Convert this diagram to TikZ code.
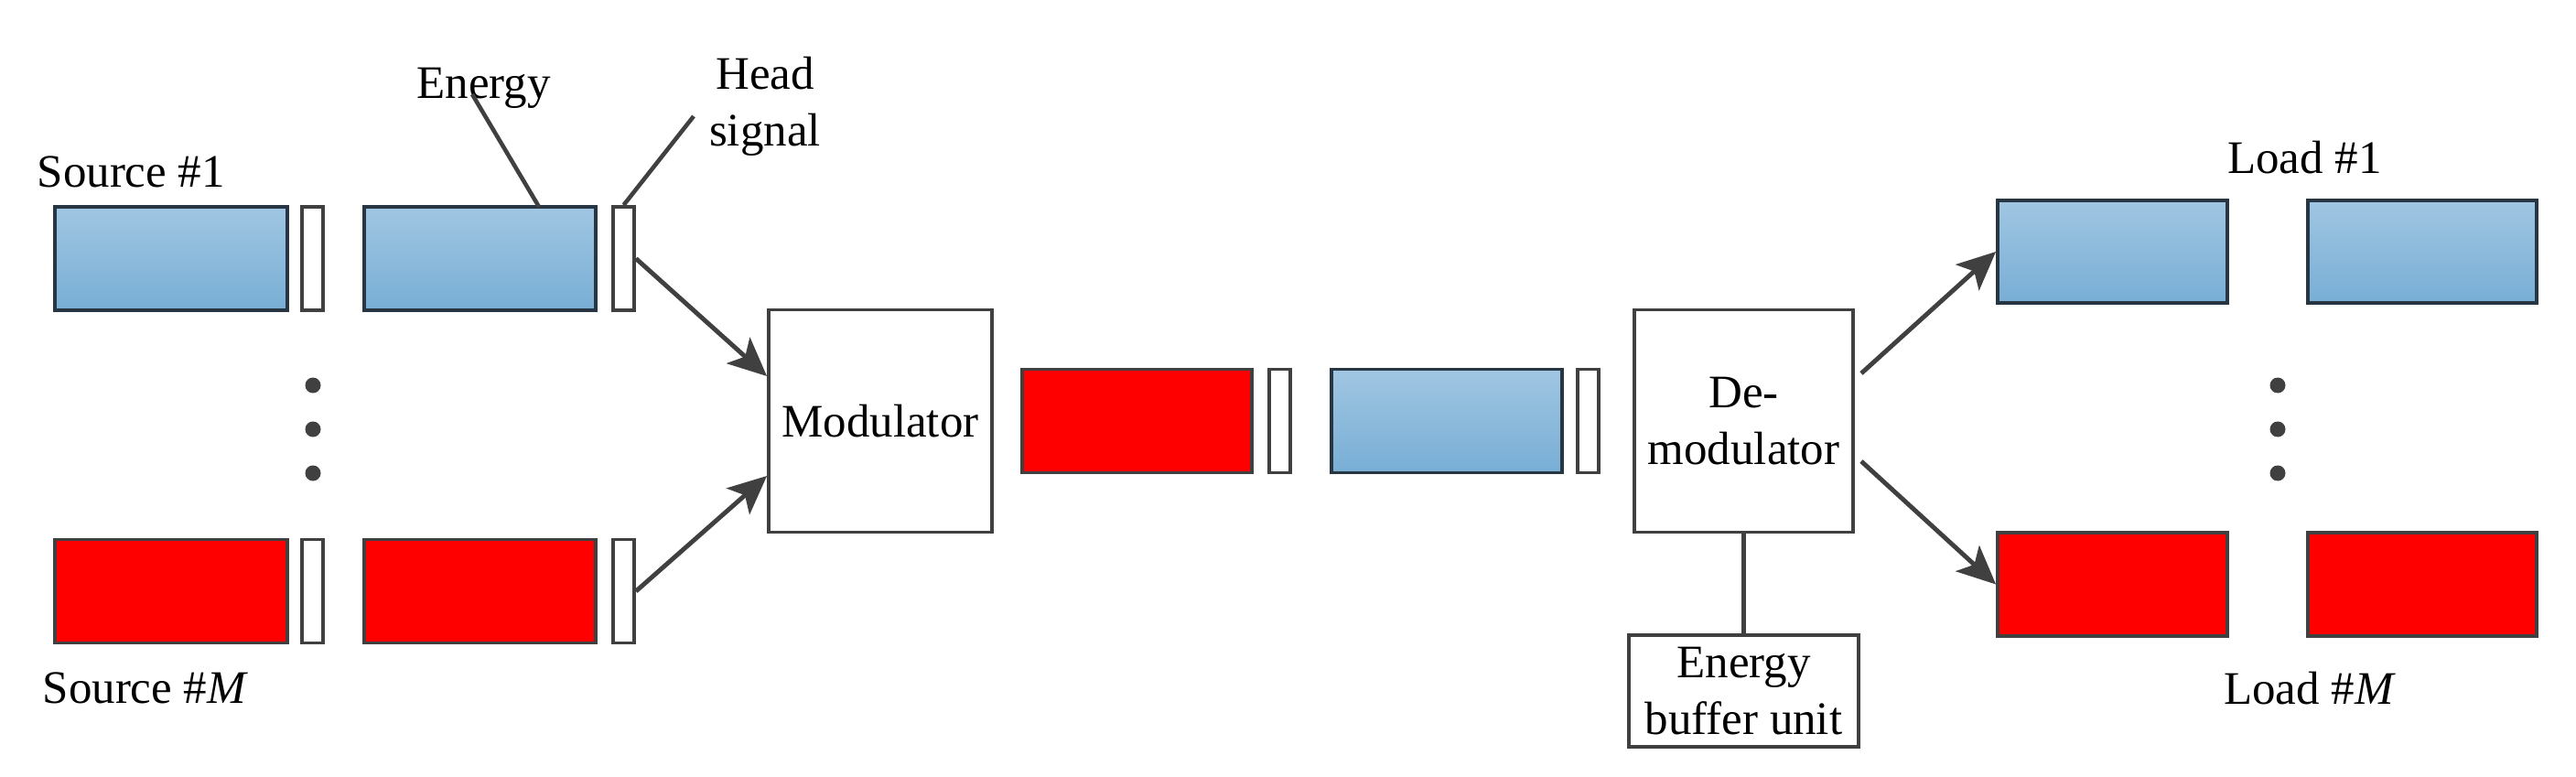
\documentclass[tikz,border=0pt]{standalone}
\usepackage{fontspec}
\setmainfont{Liberation Serif}
\usetikzlibrary{arrows.meta}
\definecolor{linegray}{RGB}{64,64,64}
\definecolor{bluerim}{RGB}{40,54,68}
\definecolor{pkttop}{RGB}{160,198,226}
\definecolor{pktbot}{RGB}{120,174,213}

\begin{document}
\begin{tikzpicture}[scale=1.0,
    every node/.style={font=\fontsize{14.5}{17.6}\selectfont},
    box/.style={draw=linegray, line width=1.1pt, inner sep=0pt},
    bluepkt/.style={box, draw=bluerim, top color=pkttop, bottom color=pktbot, minimum width=2.53cm, minimum height=1.13cm},
    redpkt/.style={box, fill=red, minimum width=2.53cm, minimum height=1.13cm},
    headbox/.style={box, fill=white, minimum width=0.23cm, minimum height=1.13cm},
    unitbox/.style={box, fill=white, align=center},
    flow/.style={draw=linegray, line width=1.4pt, -{Stealth[length=0.42cm,width=0.38cm,inset=0.1cm]}},
    leader/.style={draw=linegray, line width=1.3pt}]
    \useasboundingbox (0,0) rectangle (28.15,8.48);

    \node[bluepkt, minimum width=2.54cm] (srcAa) at (1.87,5.655) {};
    \node[headbox] (hdAa) at (3.415,5.655) {};
    \node[bluepkt] (srcAb) at (5.245,5.655) {};
    \node[headbox] (hdAb) at (6.815,5.655) {};
    \node[redpkt, minimum width=2.54cm] (srcBa) at (1.87,2.02) {};
    \node[headbox] (hdBa) at (3.415,2.02) {};
    \node[redpkt] (srcBb) at (5.245,2.02) {};
    \node[headbox] (hdBb) at (6.815,2.02) {};

    \node[unitbox, minimum width=2.44cm, minimum height=2.43cm] (mod) at (9.62,3.88) {Modulator};
    \node[redpkt, minimum width=2.51cm] (chRed) at (12.425,3.88) {};
    \node[headbox] (chRedhd) at (13.985,3.88) {};
    \node[bluepkt, minimum width=2.52cm] (chBlue) at (15.81,3.88) {};
    \node[headbox] (chBluehd) at (17.355,3.88) {};
    \node[unitbox, minimum width=2.39cm, minimum height=2.43cm] (demod) at (19.055,3.88) {De-\\modulator};
    \node[unitbox, minimum width=2.51cm, minimum height=1.22cm] (buf) at (19.055,0.93) {Energy\\buffer unit};

    \node[bluepkt, minimum width=2.51cm, minimum height=1.12cm] (ldAa) at (23.085,5.73) {};
    \node[bluepkt, minimum width=2.50cm, minimum height=1.12cm] (ldAb) at (26.47,5.73) {};
    \node[redpkt, minimum width=2.51cm] (ldBa) at (23.085,2.095) {};
    \node[redpkt, minimum width=2.50cm] (ldBb) at (26.47,2.095) {};

    \node[anchor=base west, inner sep=0pt] (srcAlbl) at (0.40,6.43) {Source \#1};
    \node[anchor=base west, inner sep=0pt] (srcBlbl) at (0.46,0.80) {Source \#\textit{M}};
    \node[anchor=base, inner sep=0pt] (enlbl) at (5.285,7.40) {Energy};
    \node[align=center, inner sep=0pt] (hdlbl) at (8.36,7.32) {Head\\signal};
    \node[anchor=base, inner sep=0pt] (ldAlbl) at (25.185,6.58) {Load \#1};
    \node[anchor=base, inner sep=0pt] (ldBlbl) at (25.24,0.79) {Load \#\textit{M}};

    \coordinate (entip) at (5.16,7.45);
    \coordinate (enfoot) at (5.89,6.22);
    \coordinate (hdtip) at (7.58,7.21);
    \draw[leader] (entip) -- (enfoot);
    \draw[leader] (hdtip) -- (hdAb.north);

    \draw[flow] (hdAb.east) -- ([yshift=0.49cm]mod.west);
    \draw[flow] (hdBb.east) -- ([yshift=-0.60cm]mod.west);
    \draw[flow] ([xshift=0.07cm,yshift=0.52cm]demod.east) -- (ldAa.west);
    \draw[flow] ([xshift=0.07cm,yshift=-0.44cm]demod.east) -- (ldBa.west);
    \draw[leader] (demod.south) -- (buf.north);

    \foreach \y in {4.27,3.79,3.31} {
        \fill[linegray] (3.42,\y) circle (0.085);
        \fill[linegray] (24.89,\y) circle (0.085);
    }
\end{tikzpicture}
\end{document}
